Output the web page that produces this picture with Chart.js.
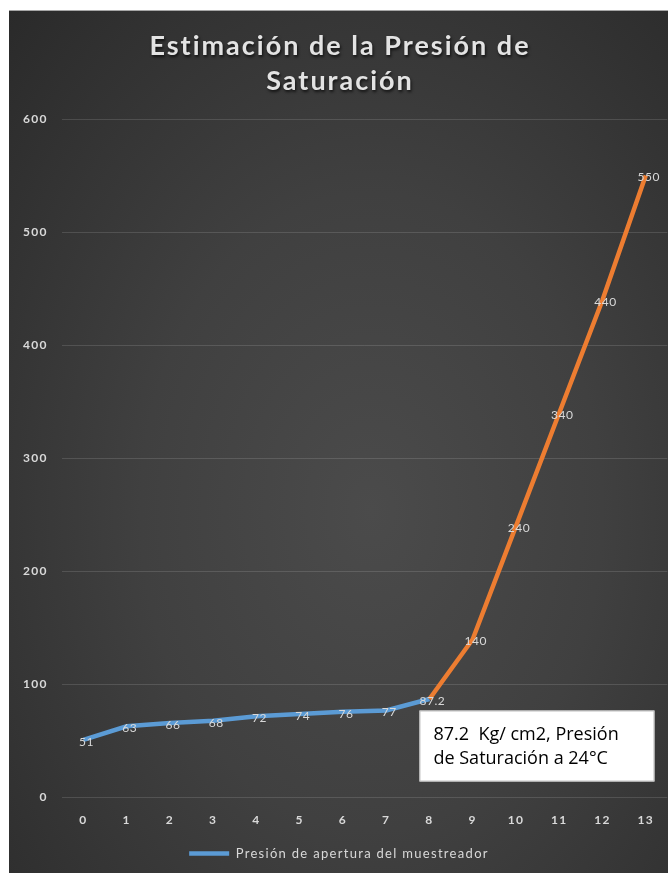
<!DOCTYPE html>
<html>
<head>
<meta charset="utf-8">
<script src="https://cdn.jsdelivr.net/npm/chart.js@4"></script>
<style>
  html, body { margin: 0; padding: 0; background: #fff; overflow: hidden; }
  #wrap {
    position: absolute; left: 9px; top: 10px; width: 659px; height: 863px;
    border-top: 1px solid #a6a6a6; overflow: hidden;
    background: radial-gradient(ellipse at 55% 58%, #4b4b4b 0%, #404040 45%, #2a2a2a 100%);
  }
  #lienzo { position: relative; width: 660px; height: 863px; }
</style>
</head>
<body>
<div id="wrap"><div id="lienzo"><canvas id="chart"></canvas></div></div>
<script>
// datos
const xLabels = ['0', '1', '2', '3', '4', '5', '6', '7', '8', '9', '10', '11', '12', '13'];
const presion = [51, 63, 66, 68, 72, 74, 76, 77, 87.2, 140, 240, 340, 440, 550];
const puntoSaturacion = 8; // a partir de aquí la línea es naranja
const serieNombre = 'Presión de apertura del muestreador';
const titulo = ['Estimación de la Presión de', 'Saturación'];
const notaLineas = ['87.2  Kg/ cm2, Presión', 'de Saturación a 24°C'];

const azul = '#5b9bd5';
const naranja = '#ed7d31';
const textoClaro = '#d9d9d9';

// el texto de Excel va algo espaciado; se aplica a todo el lienzo
const espaciadoPlugin = {
  id: 'espaciado',
  beforeUpdate(chart) { chart.ctx.letterSpacing = '1.3px'; },
  beforeDraw(chart) { chart.ctx.letterSpacing = '1.3px'; }
};

// título dibujado a mano (con sombra y más espaciado)
const tituloPlugin = {
  id: 'tituloPropio',
  afterDraw(chart) {
    const ctx = chart.ctx;
    const cx = 331;
    ctx.save();
    ctx.letterSpacing = '2px';
    ctx.font = 'bold 27px Lato';
    ctx.textAlign = 'center';
    ctx.textBaseline = 'middle';
    ctx.shadowColor = 'rgba(0,0,0,0.7)';
    ctx.shadowBlur = 3;
    ctx.shadowOffsetX = 1;
    ctx.shadowOffsetY = 2;
    ctx.fillStyle = '#e3e3e3';
    ctx.fillText(titulo[0], cx, 35);
    ctx.fillText(titulo[1], cx, 70);
    ctx.restore();
  }
};

// etiquetas de valor sobre cada punto
const etiquetasPlugin = {
  id: 'etiquetas',
  afterDatasetsDraw(chart) {
    const ctx = chart.ctx;
    const meta = chart.getDatasetMeta(0);
    ctx.save();
    ctx.letterSpacing = '0.5px';
    ctx.font = '12px Lato';
    ctx.fillStyle = textoClaro;
    ctx.textAlign = 'center';
    ctx.textBaseline = 'middle';
    meta.data.forEach((pt, i) => {
      ctx.fillText(String(presion[i]), pt.x + 3, pt.y + 2);
    });
    ctx.restore();
  }
};

// cuadro de texto con la presión de saturación
const notaPlugin = {
  id: 'nota',
  afterDraw(chart) {
    const ctx = chart.ctx;
    const x0 = chart.scales.x.getPixelForValue(puntoSaturacion) - 10;
    const y0 = chart.scales.y.getPixelForValue(77);
    const w = 235, h = 71;
    ctx.save();
    ctx.letterSpacing = '0px';
    ctx.fillStyle = '#ffffff';
    ctx.fillRect(x0, y0, w, h);
    ctx.strokeStyle = '#bfbfbf';
    ctx.lineWidth = 1;
    ctx.strokeRect(x0 + 0.5, y0 + 0.5, w - 1, h - 1);
    ctx.fillStyle = '#000000';
    ctx.font = '18px "Open Sans"';
    ctx.textBaseline = 'alphabetic';
    ctx.fillText(notaLineas[0], x0 + 14, y0 + 29);
    ctx.fillText(notaLineas[1], x0 + 14, y0 + 53);
    ctx.restore();
  }
};

const ctx = document.getElementById('chart').getContext('2d');
new Chart(ctx, {
  type: 'line',
  data: {
    labels: xLabels,
    datasets: [{
      label: serieNombre,
      data: presion,
      borderColor: azul,
      backgroundColor: azul,
      borderWidth: 4.5,
      pointRadius: 0,
      pointHoverRadius: 0,
      pointStyle: 'line',
      tension: 0,
      segment: {
        borderColor: c => c.p0DataIndex >= puntoSaturacion ? naranja : azul
      }
    }]
  },
  options: {
    responsive: true,
    maintainAspectRatio: false,
    animation: false,
    layout: { padding: { top: 108, left: 0, right: 0, bottom: 4 } },
    plugins: {
      title: { display: false },
      legend: {
        position: 'bottom',
        labels: {
          color: textoClaro,
          font: { family: 'Lato', size: 13 },
          usePointStyle: true,
          pointStyleWidth: 40,
          boxWidth: 40,
          padding: 5
        }
      },
      tooltip: { enabled: false }
    },
    scales: {
      x: {
        offset: true,
        grid: { display: false, drawTicks: false },
        border: { display: false },
        ticks: { color: textoClaro, font: { family: 'Lato', size: 12, weight: 'bold' }, padding: 15, maxRotation: 0 }
      },
      y: {
        min: 0,
        max: 600,
        ticks: { stepSize: 100, color: textoClaro, font: { family: 'Lato', size: 12, weight: 'bold' }, padding: 14 },
        grid: { color: 'rgba(255,255,255,0.13)', drawTicks: false },
        border: { display: false }
      }
    }
  },
  plugins: [espaciadoPlugin, etiquetasPlugin, notaPlugin, tituloPlugin]
});
</script>
</body>
</html>
